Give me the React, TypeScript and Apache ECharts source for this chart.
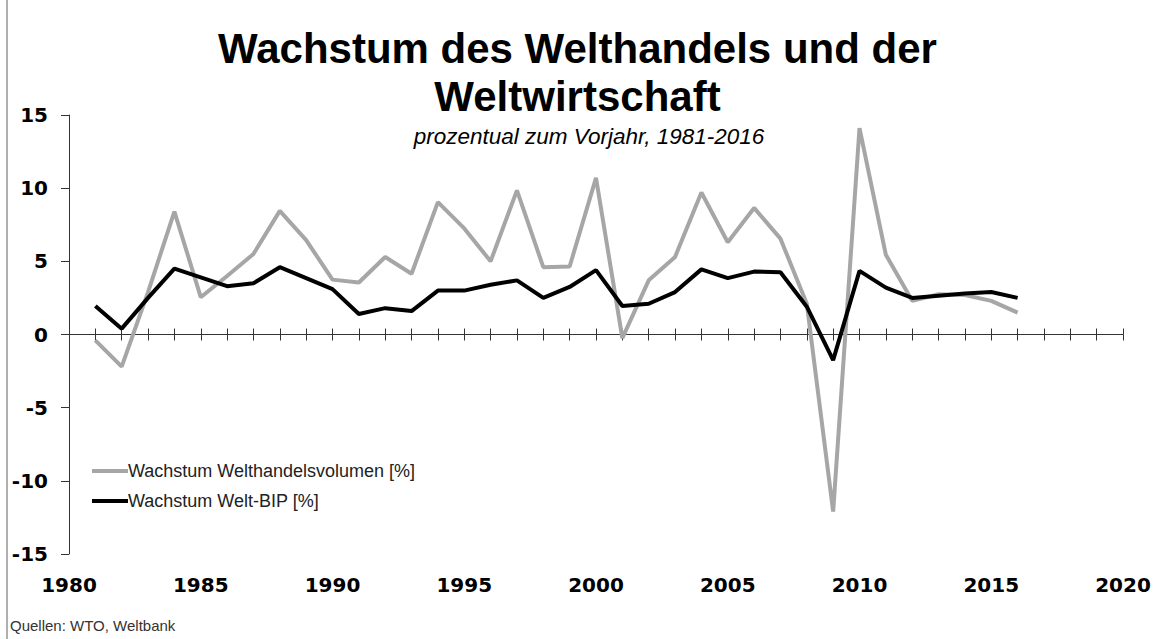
import React, { useEffect, useRef } from "react";
import * as echarts from "echarts";

const years = [1981,1982,1983,1984,1985,1986,1987,1988,1989,1990,1991,1992,1993,1994,1995,1996,1997,1998,1999,2000,2001,2002,2003,2004,2005,2006,2007,2008,2009,2010,2011,2012,2013,2014,2015,2016];
const tradeGrowth = [-0.4,-2.2,2.9,8.4,2.55,4.0,5.5,8.45,6.45,3.75,3.55,5.3,4.15,9.05,7.25,5.0,9.85,4.6,4.65,10.7,-0.25,3.7,5.3,9.7,6.3,8.65,6.55,2.1,-12.1,14.1,5.45,2.3,2.75,2.7,2.3,1.5];
const gdpGrowth = [1.95,0.4,2.5,4.5,3.9,3.3,3.5,4.6,3.85,3.1,1.4,1.8,1.6,3.0,3.0,3.4,3.7,2.5,3.25,4.4,1.95,2.1,2.9,4.45,3.85,4.3,4.25,1.9,-1.75,4.35,3.2,2.5,2.65,2.8,2.9,2.5];
const seriesNames = ["Wachstum Welthandelsvolumen [%]", "Wachstum Welt-BIP [%]"];
const titleText = "Wachstum des Welthandels und der\nWeltwirtschaft";
const subtitleText = "prozentual zum Vorjahr, 1981-2016";
const sourceText = "Quellen: WTO, Weltbank";

export default function App() {
  const ref = useRef<HTMLDivElement>(null);
  useEffect(() => {
    if (!ref.current) return;
    const chart = echarts.init(ref.current, null, { renderer: "svg" });
    const axisColor = "#333";
    chart.setOption({
      animation: false,
      backgroundColor: "#fff",
      title: [
        {
          text: titleText,
          left: "center",
          top: 19,
          textStyle: { fontFamily: "Liberation Sans", fontWeight: "bold", fontSize: 42, lineHeight: 48, color: "#000" },
        },
        {
          text: subtitleText,
          left: 584,
          textAlign: "center",
          top: 120,
          textStyle: { fontFamily: "Liberation Sans", fontStyle: "italic", fontWeight: "normal", fontSize: 22.5, color: "#000" },
        },
      ],
      legend: {
        orient: "vertical",
        left: 87,
        top: 457,
        itemWidth: 36,
        itemHeight: 4,
        itemGap: 12,
        icon: "rect",
        data: seriesNames,
        textStyle: { fontFamily: "Liberation Sans", fontSize: 18, color: "#222", padding: [0, 0, 0, -5] },
      },
      grid: { left: 69, right: 32, top: 115, bottom: 85, containLabel: false, outerBoundsMode: "none" },
      xAxis: [
        {
          type: "value",
          position: "bottom",
          min: 1980,
          max: 2020,
          interval: 1,
          axisLine: { show: true, onZero: true, onZeroAxisIndex: 0, lineStyle: { color: axisColor, width: 1 } },
          axisTick: { show: true, length: 6, lineStyle: { color: axisColor } },
          axisLabel: {
            margin: 21,
            formatter: (v: number) => (v % 5 === 0 ? String(v) : ""),
            fontFamily: "DejaVu Sans",
            fontWeight: "bold",
            fontSize: 20,
            color: "#000",
          },
          splitLine: { show: false },
        },
        {
          type: "value",
          position: "top",
          min: 1980,
          max: 2020,
          interval: 1,
          axisLine: { show: false, onZero: true, onZeroAxisIndex: 1 },
          axisTick: { show: true, length: 6, lineStyle: { color: axisColor } },
          axisLabel: { show: false },
          splitLine: { show: false },
        },
      ],
      yAxis: [
        {
          type: "value",
          min: -15,
          max: 15,
          interval: 5,
          axisLine: { show: true, lineStyle: { color: axisColor, width: 1 } },
          axisTick: { show: true, length: 8, lineStyle: { color: axisColor } },
          axisLabel: { margin: 21, fontFamily: "DejaVu Sans", fontWeight: "bold", fontSize: 20, color: "#000" },
          splitLine: { show: false },
        },
        {
          type: "value",
          position: "right",
          min: -15,
          max: 15,
          interval: 5,
          axisLine: { show: false },
          axisTick: { show: false },
          axisLabel: { show: false },
          splitLine: { show: false },
        },
      ],
      graphic: [
        { type: "line", shape: { x1: 7, y1: 0, x2: 7, y2: 639 }, style: { stroke: "#b0b0b0", lineWidth: 2 } },
        { type: "text", left: 10, top: 618, style: { text: sourceText, font: "15px 'Liberation Sans'", fill: "#333" } },
      ],
      series: [
        {
          name: seriesNames[0],
          type: "line",
          data: years.map((y, i) => [y, tradeGrowth[i]]),
          showSymbol: false,
          lineStyle: { color: "#a6a6a6", width: 4 },
          itemStyle: { color: "#a6a6a6" },
        },
        {
          name: seriesNames[1],
          type: "line",
          data: years.map((y, i) => [y, gdpGrowth[i]]),
          showSymbol: false,
          lineStyle: { color: "#000", width: 4 },
          itemStyle: { color: "#000" },
        },
      ],
    });
    return () => chart.dispose();
  }, []);
  return <div ref={ref} style={{ width: 1155, height: 639, position: "absolute", left: 0, top: 0 }} />;
}
